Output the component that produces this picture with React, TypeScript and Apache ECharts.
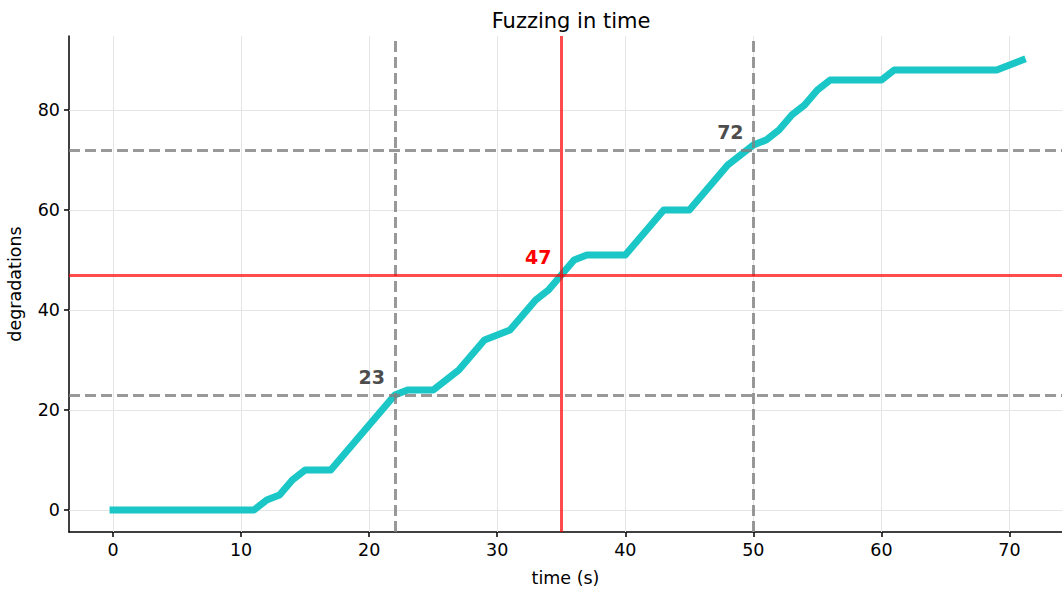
import React, { useEffect, useRef } from "react";
import * as echarts from "echarts";

const times = [0, 11, 12, 13, 14, 15, 17, 22, 23, 25, 27, 29, 31, 33, 34, 35, 36, 37, 40, 43, 45, 48, 50, 51, 52, 53, 54, 55, 56, 60, 61, 69, 71];
const degradations = [0, 0, 2, 3, 6, 8, 8, 23, 24, 24, 28, 34, 36, 42, 44, 47, 50, 51, 51, 60, 60, 69, 73, 74, 76, 79, 81, 84, 86, 86, 88, 88, 90];
const xTicks = [0, 10, 20, 30, 40, 50, 60, 70];
const yTicks = [0, 20, 40, 60, 80];
const xRange = [-3.44, 74.1];
const yRange = [-4.4, 94.8];
const grayRefX = [22, 50];
const grayRefY = [23, 72];
const redRefX = [35];
const redRefY = [47];
const annotX = [22, 35, 50];
const annotY = [23, 47, 72];
const annotText = ["23", "47", "72"];
const annotColor = ["#4d4d4d", "#ff0000", "#4d4d4d"];

const FONT = "DejaVu Sans";

export default function App() {
  const ref = useRef<HTMLDivElement>(null);
  useEffect(() => {
    if (!ref.current) return;
    const chart = echarts.init(ref.current, null, { renderer: "svg" });
    const gridStyle = { color: "#e5e5e5", width: 1, type: "solid" as const };
    const grayStyle = { color: "rgba(128,128,128,0.8)", width: 3, type: [11, 5] as any };
    const redStyle = { color: "rgba(255,0,0,0.7)", width: 3, type: "solid" as const };
    const axisCommon = {
      axisLine: { show: true, onZero: false, lineStyle: { color: "#000", width: 1.5 } },
      splitLine: { show: false },
    };
    chart.setOption({
      animation: false,
      title: {
        text: "Fuzzing in time",
        left: 566,
        textAlign: "center",
        top: 5,
        textStyle: { fontFamily: FONT, fontSize: 21, fontWeight: "normal", color: "#000" },
      },
      grid: { left: 69, right: 0, top: 36, bottom: 58, containLabel: false, outerBoundsMode: "none" },
      xAxis: {
        type: "value",
        min: xRange[0],
        max: xRange[1],
        name: "time (s)",
        nameLocation: "middle",
        nameGap: 37,
        nameTextStyle: { fontFamily: FONT, fontSize: 17.5, color: "#000" },
        ...axisCommon,
        axisTick: { show: true, customValues: xTicks, length: 5, lineStyle: { color: "#000", width: 1.5 } },
        axisLabel: { customValues: xTicks, fontFamily: FONT, fontSize: 17.5, color: "#000", margin: 9 },
      },
      yAxis: {
        type: "value",
        min: yRange[0],
        max: yRange[1],
        name: "degradations",
        nameLocation: "middle",
        nameGap: 45,
        nameTextStyle: { fontFamily: FONT, fontSize: 17.5, color: "#000" },
        ...axisCommon,
        axisTick: { show: true, customValues: yTicks, length: 5, lineStyle: { color: "#000", width: 1.5 } },
        axisLabel: { customValues: yTicks, fontFamily: FONT, fontSize: 17.5, color: "#000", margin: 9 },
      },
      series: [
        {
          type: "line",
          name: "gridlines",
          data: [],
          z: 1,
          silent: true,
          markLine: {
            z: 1,
            silent: true,
            symbol: ["none", "none"],
            label: { show: false },
            lineStyle: gridStyle,
            data: [
              ...xTicks.map((v) => ({ xAxis: v })),
              ...yTicks.map((v) => ({ yAxis: v })),
            ],
          },
        },
        {
          type: "line",
          name: "degradations",
          data: times.map((t, i) => [t, degradations[i]]),
          showSymbol: false,
          symbol: "none",
          z: 3,
          lineStyle: { color: "#1ac6c6", width: 7, cap: "square", join: "round" },
          itemStyle: { color: "#1ac6c6" },
        },
        {
          type: "line",
          name: "refs",
          data: [],
          z: 4,
          silent: true,
          markLine: {
            z: 5,
            silent: true,
            symbol: ["none", "none"],
            label: { show: false },
            data: [
              ...grayRefX.map((v) => ({ xAxis: v, lineStyle: grayStyle })),
              ...grayRefY.map((v) => ({ yAxis: v, lineStyle: grayStyle })),
              ...redRefX.map((v) => ({ xAxis: v, lineStyle: redStyle })),
              ...redRefY.map((v) => ({ yAxis: v, lineStyle: redStyle })),
            ],
          },
        },
        {
          type: "scatter",
          name: "annotations",
          z: 6,
          silent: true,
          symbolSize: 0,
          itemStyle: { color: "transparent" },
          data: annotX.map((x, i) => ({
            value: [x, annotY[i]],
            label: {
              show: true,
              formatter: annotText[i],
              position: "top",
              distance: 0,
              offset: [-23, -9],
              fontFamily: FONT,
              fontSize: 19,
              fontWeight: "bold",
              color: annotColor[i],
              opacity: 1,
              textBorderWidth: 0,
            },
          })),
        },
      ],
    });
    return () => chart.dispose();
  }, []);
  return (
    <div
      ref={ref}
      style={{ position: "fixed", left: 0, top: 0, width: 1062, height: 590, background: "#fff" }}
    />
  );
}
